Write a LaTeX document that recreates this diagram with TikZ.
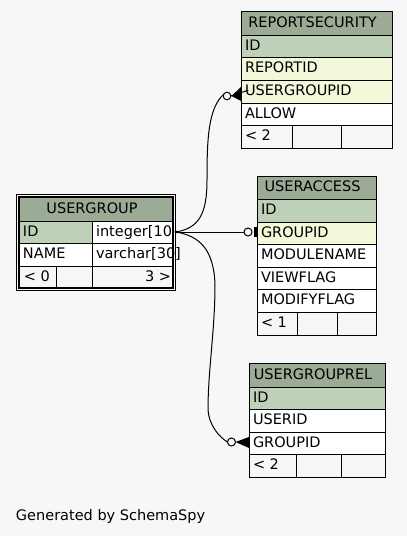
\documentclass[tikz,border=0pt]{standalone}
\usepackage{fontspec}
\setmainfont{DejaVu Sans}
\definecolor{bg}{HTML}{F7F7F7}
\definecolor{hdr}{HTML}{9BAB96}
\definecolor{pk}{HTML}{BED1B8}
\definecolor{idx}{HTML}{F4F7DA}
\tikzset{
  txt/.style={anchor=base west, inner sep=0pt, outer sep=0pt, font=\fontsize{14.5}{17}\selectfont},
  htxt/.style={anchor=base, inner sep=0pt, outer sep=0pt, font=\fontsize{14.5}{17}\selectfont},
  rtxt/.style={anchor=base east, inner sep=0pt, outer sep=0pt, font=\fontsize{14.5}{17}\selectfont},
  cellline/.style={draw=black, line width=1pt},
  conn/.style={draw=black, line width=1pt},
  opencirc/.style={draw=black, line width=1pt, fill=bg},
  crowfoot/.style={fill=black},
}
% name, x1, y1, x2, y2, fill, text
\newcommand\tcell[7]{%
  \filldraw[cellline, fill=#6] (#2,#3) rectangle (#4,#5);
  \node[txt] (#1) at ({#2+4},{(#3+#5)/2+4}) {#7};}
% name, x1, y1, x2, y2, text
\newcommand\thead[6]{%
  \filldraw[cellline, fill=hdr] (#2,#3) rectangle (#4,#5);
  \node[htxt] (#1) at ({(#2+#4)/2-4},{(#3+#5)/2+4}) {#6};}
% plain box
\newcommand\tbox[5]{\filldraw[cellline, fill=#5] (#1,#2) rectangle (#3,#4);}
\begin{document}
\begin{tikzpicture}[x=1pt,y=-1pt]
\fill[bg] (0,0) rectangle (407,536);
\useasboundingbox (0,0) rectangle (407,536);

% ---------- REPORTSECURITY ----------
\thead{rsh}{241}{11}{392}{35}{REPORTSECURITY}
\tcell{rsid}{241}{35}{392}{57}{pk}{ID}
\tcell{rsrep}{241}{57}{392}{80}{idx}{REPORTID}
\tcell{rsug}{241}{80}{392}{103}{idx}{USERGROUPID}
\tcell{rsal}{241}{103}{392}{125}{white}{ALLOW}
\tcell{rsf}{241}{125}{292}{148}{bg}{< 2}
\tbox{292}{125}{341}{148}{bg}
\tbox{341}{125}{392}{148}{bg}

% ---------- USERACCESS ----------
\thead{uah}{257}{176}{376}{199}{USERACCESS}
\tcell{uaid}{257}{199}{376}{222}{pk}{ID}
\tcell{uagid}{257}{222}{376}{244}{idx}{GROUPID}
\tcell{uamod}{257}{244}{376}{267}{white}{MODULENAME}
\tcell{uavf}{257}{267}{376}{289}{white}{VIEWFLAG}
\tcell{uamf}{257}{289}{376}{312}{white}{MODIFYFLAG}
\tcell{uaf}{257}{312}{297}{335}{bg}{< 1}
\tbox{297}{312}{337}{335}{bg}
\tbox{337}{312}{376}{335}{bg}

% ---------- USERGROUPREL ----------
\thead{ugrh}{249}{363}{385}{387}{USERGROUPREL}
\tcell{ugrid}{249}{387}{385}{409}{pk}{ID}
\tcell{ugruid}{249}{409}{385}{432}{white}{USERID}
\tcell{ugrgid}{249}{432}{385}{454}{white}{GROUPID}
\tcell{ugrf}{249}{454}{296}{477}{bg}{< 2}
\tbox{296}{454}{341}{477}{bg}
\tbox{341}{454}{385}{477}{bg}

% ---------- USERGROUP (focus table) ----------
\draw[black, line width=1.3pt] (16.6,194.6) rectangle (175.4,290.4);
\thead{ugh}{19}{197}{173}{221}{USERGROUP}
\tcell{ugid}{19}{221}{92}{243}{pk}{ID}
\tcell{ugidt}{92}{221}{173}{243}{white}{integer[10}
\tcell{ugname}{19}{243}{92}{266}{white}{NAME}
\tcell{ugnamet}{92}{243}{173}{266}{white}{varchar[30]}
\tcell{ugf}{19}{266}{56}{288}{bg}{\kern1pt< 0}
\tbox{56}{266}{92}{288}{bg}
\tbox{92}{266}{173}{288}{bg}
\node[rtxt] (ugcnt) at (171,281) {3 >};
\draw[black, line width=1.3pt] (19,197) rectangle (173,288);

% ---------- connector end points ----------
\coordinate (src) at (176,232);
\coordinate (rsc) at (227,96);
\coordinate (uac) at (248,232);
\coordinate (ugrc) at (231.5,442);

% USERGROUP.ID -> REPORTSECURITY.USERGROUPID
\draw[conn] (src) .. controls (199,228) and (207,214) .. (207,180)
  .. controls (207,140) and (208,108) .. ([xshift=-3pt,yshift=2pt]rsc);
\draw[conn] ([xshift=3.8pt]rsc) -- (rsug.west -| rsh.west) ;
\fill[crowfoot] (231.5,96) -- (241,87) -- (241,101) -- cycle;
\draw[opencirc] (rsc) circle (3.8pt);

% USERGROUP.ID -> USERACCESS.GROUPID
\draw[conn] (src) -- ([xshift=-4pt]uac);
\draw[opencirc] (uac) circle (4pt);
\fill[black] (253.5,227) rectangle (257,237);

% USERGROUP.ID -> USERGROUPREL.GROUPID
\draw[conn] (src) .. controls (200,236) and (214,250) .. (215,285)
  .. controls (215,330) and (208,370) .. (208,410)
  .. controls (209,425) and (219,437) .. ([xshift=-4pt]ugrc);
\fill[crowfoot] (235.5,442) -- (249,437) -- (249,448) -- cycle;
\draw[opencirc] (ugrc) circle (4pt);

\fill[black] (src) circle (1.6pt);

% ---------- footer ----------
\node[txt] (gen) at (16,520) {Generated by SchemaSpy};
\end{tikzpicture}
\end{document}
